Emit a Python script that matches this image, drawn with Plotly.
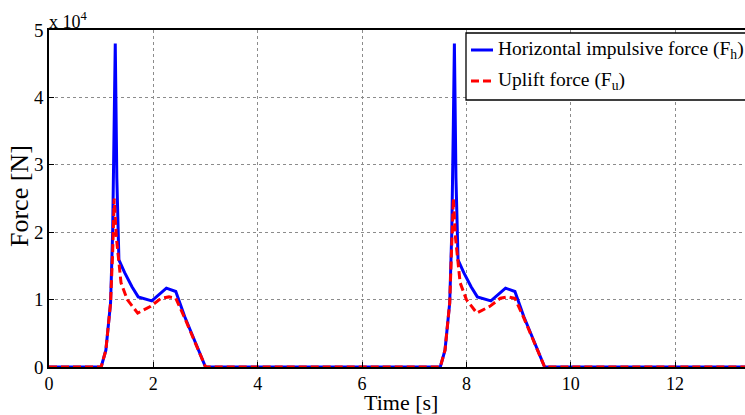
import plotly.graph_objects as go

# Time [s] and forces [N]
t_h = [0, 1.0, 1.09, 1.18, 1.22, 1.25, 1.27, 1.30, 1.34, 1.45, 1.59, 1.71, 1.97, 2.25, 2.43, 2.6, 2.8, 3.0,
       7.5, 7.59, 7.68, 7.72, 7.75, 7.77, 7.80, 7.84, 7.95, 8.09, 8.21, 8.47, 8.75, 8.93, 9.1, 9.3, 9.5, 13.5]
f_h = [0, 0, 2500, 9500, 20000, 36000, 48000, 28000, 15900, 14000, 11900, 10400, 9800, 11700, 11200, 7500, 3800, 0,
       0, 2500, 9500, 20000, 36000, 48000, 28000, 15900, 14000, 11900, 10400, 9800, 11700, 11200, 7500, 3800, 0, 0]

t_u = [0, 1.0, 1.09, 1.18, 1.22, 1.25, 1.29, 1.38, 1.50, 1.70, 1.95, 2.15, 2.30, 2.43, 2.6, 2.8, 3.0,
       7.5, 7.59, 7.68, 7.72, 7.75, 7.79, 7.88, 8.00, 8.20, 8.45, 8.65, 8.80, 8.93, 9.1, 9.3, 9.5, 13.5]
f_u = [0, 0, 2500, 9500, 17000, 25000, 19300, 12500, 10000, 8000, 9000, 10200, 10400, 10200, 7300, 3700, 0,
       0, 2500, 9500, 17000, 25000, 19300, 12500, 10000, 8000, 9000, 10200, 10400, 10200, 7300, 3700, 0, 0]

y_ticks = [0, 10000, 20000, 30000, 40000, 50000]
y_ticktext = ["0", "1", "2", "3", "4", "5"]
x_ticks = [0, 2, 4, 6, 8, 10, 12]

name_h = "Horizontal impulsive force (F<sub>h</sub>)"
name_u = "Uplift force (F<sub>u</sub>)"

FONT = "Liberation Serif"
BLUE = "#0000ff"
RED = "#ff0000"
RED_DASH = "8px,4px"

fig = go.Figure()
fig.add_trace(go.Scatter(x=t_h, y=f_h, mode="lines", name=name_h, showlegend=False,
                         line=dict(color=BLUE, width=3)))
fig.add_trace(go.Scatter(x=t_u, y=f_u, mode="lines", name=name_u, showlegend=False,
                         line=dict(color=RED, width=3, dash=RED_DASH)))

fig.update_layout(
    width=745, height=415,
    margin=dict(l=49, r=0, t=30, b=48, autoexpand=False),
    paper_bgcolor="white", plot_bgcolor="white",
    font=dict(family=FONT, size=18, color="black"),
    showlegend=False,
    xaxis=dict(range=[0, 13.34], tickvals=x_ticks, ticks="inside", ticklen=5, tickcolor="black",
               showgrid=True, gridcolor="#8c8c8c", griddash="dot", gridwidth=1,
               showline=True, linecolor="black", linewidth=1.5, mirror=True,
               zeroline=False, tickfont=dict(size=18), automargin=False),
    yaxis=dict(range=[0, 50000], tickvals=y_ticks, ticktext=y_ticktext, ticks="inside", ticklen=5,
               tickcolor="black",
               showgrid=True, gridcolor="#8c8c8c", griddash="dot", gridwidth=1,
               showline=True, linecolor="black", linewidth=1.5, mirror=True,
               zeroline=False, tickfont=dict(size=19), automargin=False),
)

def px_x(p):
    return (p - 49) / 696.0

def px_y(p):
    return (367 - p) / 337.0

# axis titles
fig.add_annotation(xref="paper", yref="paper", x=px_x(401), y=px_y(403), xanchor="center", yanchor="middle",
                   text="Time [s]", showarrow=False, font=dict(family=FONT, size=22))
fig.add_annotation(xref="paper", yref="paper", x=px_x(19), y=px_y(196), xanchor="center", yanchor="middle",
                   text="Force [N]", textangle=-90, showarrow=False, font=dict(family=FONT, size=26))

# exponent label
fig.add_annotation(xref="paper", yref="paper", x=0.0, y=1.0, xanchor="left", yanchor="bottom",
                   text="x 10<sup>4</sup>", showarrow=False, font=dict(family=FONT, size=18),
                   xshift=-2, yshift=-4)

# legend box (drawn in paper coordinates)
fig.add_shape(type="rect", xref="paper", yref="paper", x0=px_x(466), x1=px_x(800), y0=px_y(100), y1=px_y(33),
              line=dict(color="black", width=1.3), fillcolor="white", layer="above")
for row_y, col, dash, label in [(50, BLUE, "solid", name_h), (81, RED, RED_DASH, name_u)]:
    fig.add_shape(type="line", xref="paper", yref="paper", x0=px_x(471), x1=px_x(493), y0=px_y(row_y),
                  y1=px_y(row_y), line=dict(color=col, width=3, dash=dash), layer="above")
    fig.add_annotation(xref="paper", yref="paper", x=px_x(496), y=px_y(row_y), xanchor="left", yanchor="middle",
                       text=label, showarrow=False, font=dict(family=FONT, size=19.5))

fig.write_html("out.html", post_script="document.body.style.margin='0';",
               config={"displayModeBar": False})
